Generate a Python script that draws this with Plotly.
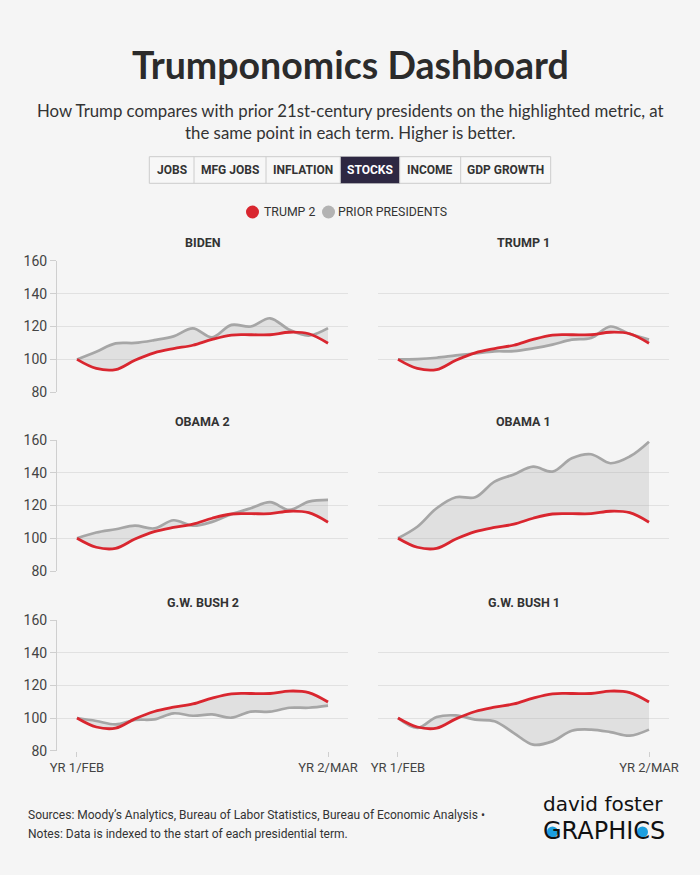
import plotly.graph_objects as go

W, H = 700, 875

# ---------------- data ----------------
months = list(range(14))  # Feb of year 1 .. Mar of year 2
tick_vals = [0, 13]
tick_labels = ["YR 1/FEB", "YR 2/MAR"]
y_ticks = [80, 100, 120, 140, 160]

trump2 = [100, 94.5, 93.8, 99.5, 104, 106.6, 108.6, 112.2, 114.8, 115, 115, 116.5, 115.6, 109.8]
biden = [100, 104.7, 109.7, 110, 111.7, 114, 118.9, 113.4, 121, 120, 125, 118, 114.5, 119]
trump1 = [100, 100.2, 101, 102.4, 103.6, 104.9, 105, 106.7, 109, 112, 113, 120, 115.5, 112]
obama2 = [100, 103.5, 105.5, 107.7, 106, 111, 107.7, 110, 114.7, 118.3, 122, 117.3, 122.4, 123.4]
obama1 = [100, 107, 118.3, 125, 125, 134.6, 139, 143.7, 140.7, 148.8, 151.3, 145.8, 149.9, 159]
bush2 = [100, 98.2, 96.1, 98.8, 99.2, 102.9, 101.4, 102.2, 100.2, 103.9, 103.9, 106.3, 106.3, 107.6]
bush1 = [100, 93.9, 100.6, 101.6, 99, 98, 90.8, 83.7, 85.7, 92.2, 92.9, 91.4, 89.2, 92.9]

panel_names = ["BIDEN", "TRUMP 1", "OBAMA 2", "OBAMA 1", "G.W. BUSH 2", "G.W. BUSH 1"]
panel_series = [biden, trump1, obama2, obama1, bush2, bush1]

buttons = ["JOBS", "MFG JOBS", "INFLATION", "STOCKS", "INCOME", "GDP GROWTH"]
active_button = "STOCKS"

footer_lines = ["Sources: Moody’s Analytics, Bureau of Labor Statistics, Bureau of Economic Analysis •",
                "Notes: Data is indexed to the start of each presidential term."]

# ---------------- style ----------------
BG = "#f5f5f5"
RED = "#d9262f"
GRAY = "#a6a6a6"
FILL = "rgba(170,170,170,0.28)"
GRID = "#e1e1e1"
AXIS = "#cfcfcf"
TEXT = "#333333"
LABEL_FONT = "Roboto"
TITLE_FONT = "Lato"


def px_x(p):
    return p / W


def px_y(p):
    return 1 - p / H


# plot-area pixel geometry
cols = [(57, 348), (378, 669)]
rows = [(260.7, 392.3), (440, 571), (620, 750.7)]

fig = go.Figure()
layout = {}
annotations = []
shapes = []

for i, (name, series) in enumerate(zip(panel_names, panel_series)):
    r, c = divmod(i, 2)
    n = i + 1
    xa = "x" if n == 1 else f"x{n}"
    ya = "y" if n == 1 else f"y{n}"
    fig.add_trace(go.Scatter(x=months, y=trump2, xaxis=xa, yaxis=ya, mode="lines",
                             line=dict(width=0, shape="spline", color=RED),
                             showlegend=False, hoverinfo="skip"))
    fig.add_trace(go.Scatter(x=months, y=series, xaxis=xa, yaxis=ya, mode="lines",
                             line=dict(width=2.7, shape="spline", color=GRAY),
                             fill="tonexty", fillcolor=FILL,
                             showlegend=False, name=name))
    fig.add_trace(go.Scatter(x=months, y=trump2, xaxis=xa, yaxis=ya, mode="lines",
                             line=dict(width=2.8, shape="spline", color=RED),
                             showlegend=False, name="TRUMP 2"))

    x0, x1 = cols[c]
    ytop, ybot = rows[r]
    bottom = (r == 2)
    left = (c == 0)
    layout["xaxis" if n == 1 else f"xaxis{n}"] = dict(
        domain=[px_x(x0), px_x(x1)], anchor=ya, range=[-1.035, 14.035],
        showgrid=False, zeroline=False, showline=False, automargin=False,
        tickvals=tick_vals, ticktext=tick_labels,
        showticklabels=bottom, ticks="outside" if bottom else "",
        ticklen=5, tickcolor=AXIS,
        tickfont=dict(family=LABEL_FONT, size=13, color="#444"),
        fixedrange=True,
    )
    layout["yaxis" if n == 1 else f"yaxis{n}"] = dict(
        domain=[px_y(ybot), px_y(ytop)], anchor=xa, range=[80, 160],
        tickvals=y_ticks, showgrid=True, gridcolor=GRID, gridwidth=1,
        zeroline=False, showline=left, linecolor=AXIS, linewidth=1, automargin=False,
        ticks="outside" if left else "", ticklen=6, tickcolor=AXIS,
        showticklabels=left,
        tickfont=dict(family=LABEL_FONT, size=14, color="#444"),
        fixedrange=True,
    )
    annotations.append(dict(text=f"<b>{name}</b>", x=px_x((x0 + x1) / 2), y=px_y(ytop - 18),
                            xref="paper", yref="paper", showarrow=False,
                            xanchor="center", yanchor="middle",
                            font=dict(family=LABEL_FONT, size=12.5, color=TEXT)))

# title & subtitle
annotations.append(dict(text="<b>Trumponomics Dashboard</b>", x=0.5, y=px_y(64),
                        xref="paper", yref="paper", showarrow=False,
                        xanchor="center", yanchor="middle",
                        font=dict(family=TITLE_FONT, size=37.5, color="#2b2b2b")))
annotations.append(dict(text="How Trump compares with prior 21st-century presidents on the highlighted metric, at<br>the same point in each term. Higher is better.",
                        x=0.5, y=px_y(121), xref="paper", yref="paper", showarrow=False,
                        xanchor="center", yanchor="middle", align="center",
                        font=dict(family=TITLE_FONT, size=16.8, color="#333")))

# buttons
edges = [149.3, 194, 266, 340.3, 399.7, 460.7, 550.7]
btop, bbot = 156.7, 183.3
shapes.append(dict(type="rect", xref="paper", yref="paper",
                   x0=px_x(edges[0]), x1=px_x(edges[-1]), y0=px_y(bbot), y1=px_y(btop),
                   line=dict(color="#cccccc", width=1), fillcolor="#f7f7f7", layer="below"))
for j, b in enumerate(buttons):
    xa0, xa1 = edges[j], edges[j + 1]
    active = (b == active_button)
    if active:
        shapes.append(dict(type="rect", xref="paper", yref="paper",
                           x0=px_x(xa0), x1=px_x(xa1), y0=px_y(bbot), y1=px_y(btop),
                           line=dict(width=0), fillcolor="#2e2842"))
    if j > 0:
        shapes.append(dict(type="line", xref="paper", yref="paper",
                           x0=px_x(xa0), x1=px_x(xa0), y0=px_y(bbot), y1=px_y(btop),
                           line=dict(color="#cccccc", width=1)))
    annotations.append(dict(text=f"<b>{b}</b>", x=px_x((xa0 + xa1) / 2), y=px_y((btop + bbot) / 2),
                            xref="paper", yref="paper", showarrow=False,
                            xanchor="center", yanchor="middle",
                            font=dict(family=LABEL_FONT, size=12,
                                      color="white" if active else TEXT)))

# legend
for cx, col in [(252.5, RED), (328.5, "#b3b3b3")]:
    shapes.append(dict(type="circle", xref="paper", yref="paper",
                       x0=px_x(cx - 6.5), x1=px_x(cx + 6.5), y0=px_y(212 + 6.5), y1=px_y(212 - 6.5),
                       line=dict(width=0), fillcolor=col))
annotations.append(dict(text="TRUMP 2", x=px_x(262), y=px_y(212), xref="paper", yref="paper",
                        showarrow=False, xanchor="left", yanchor="middle",
                        font=dict(family=LABEL_FONT, size=12.3, color=TEXT)))
annotations.append(dict(text="PRIOR PRESIDENTS", x=px_x(336), y=px_y(212), xref="paper", yref="paper",
                        showarrow=False, xanchor="left", yanchor="middle",
                        font=dict(family=LABEL_FONT, size=12.3, color=TEXT)))

# footer
for k, line in enumerate(footer_lines):
    annotations.append(dict(text=line, x=px_x(26), y=px_y(815 + 19 * k), xref="paper", yref="paper",
                            showarrow=False, xanchor="left", yanchor="middle", align="left",
                            font=dict(family=LABEL_FONT, size=12, color=TEXT)))
# logo: blue "eyes" inside G and C, then the black lettering on top
for cx in (552.5, 642.5):
    shapes.append(dict(type="circle", xref="paper", yref="paper",
                       x0=px_x(cx - 5.5), x1=px_x(cx + 5.5), y0=px_y(832 + 5.5), y1=px_y(832 - 5.5),
                       line=dict(width=0), fillcolor="#1c9fe0"))
annotations.append(dict(text="david foster", x=px_x(541), y=px_y(804), xref="paper", yref="paper",
                        showarrow=False, xanchor="left", yanchor="middle",
                        font=dict(family="DejaVu Sans", size=20, color="#111")))
annotations.append(dict(text="GRAPHICS", x=px_x(541), y=px_y(831), xref="paper", yref="paper",
                        showarrow=False, xanchor="left", yanchor="middle",
                        font=dict(family="DejaVu Sans", size=24, color="#111")))

fig.update_layout(
    width=W, height=H, margin=dict(l=0, r=0, t=0, b=0, autoexpand=False),
    autosize=False,
    paper_bgcolor=BG, plot_bgcolor=BG,
    showlegend=False, annotations=annotations, shapes=shapes,
    **layout,
)

fig.write_html("out.html", config={"responsive": False, "displayModeBar": False},
               post_script="document.body.style.margin='0';document.body.style.overflow='hidden';")
